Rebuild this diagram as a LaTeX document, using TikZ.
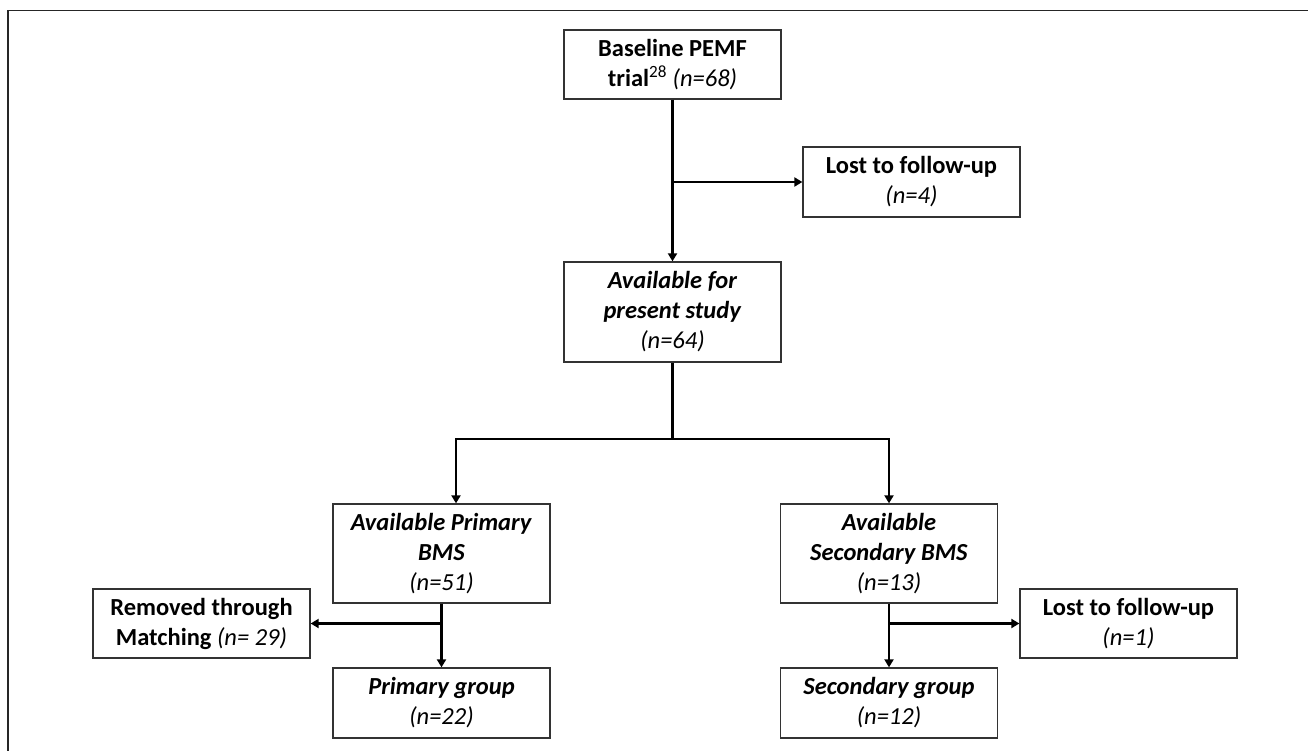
\documentclass[tikz,border=0pt]{standalone}
\usepackage{fontspec}
\setmainfont{Carlito}
\usetikzlibrary{arrows.meta}
\tikzset{
  box/.style={draw=black!80, line width=1.3pt, rectangle, minimum width=217pt, inner sep=2pt, align=center,
    font=\fontsize{24.5}{30}\selectfont},
  arr/.style={draw=black, line width=2.6pt, -{Triangle[length=8pt,width=9pt]}},
  ln/.style={draw=black, line width=2.6pt},
  frame/.style={draw=black!85, line width=1.8pt}
}
\begin{document}
\begin{tikzpicture}[x=1pt,y=-1pt]
\useasboundingbox (0,0) rectangle (1308,751);
\draw[frame] (8,751) -- (8,10.5) -- (1308,10.5);

\node[box, minimum height=69pt] (b1) at (672.5,64.5) {\textbf{Baseline PEMF}\\\textbf{trial}\textsuperscript{28} \textit{(n=68)}};
\node[box, minimum height=70pt] (lost1) at (911.5,182) {\textbf{Lost to follow-up}\\\textit{(n=4)}};
\node[box, minimum height=100pt] (avail) at (672.5,312) {\textbf{\textit{Available for}}\\\textbf{\textit{present study}}\\\textit{(n=64)}};
\node[box, minimum height=99pt] (avp) at (441.5,553.5) {\textbf{\textit{Available Primary}}\\\textbf{\textit{BMS}}\\\textit{(n=51)}};
\node[box, minimum height=99pt] (avs) at (889,553.5) {\textbf{\textit{Available}}\\\textbf{\textit{Secondary BMS}}\\\textit{(n=13)}};
\node[box, minimum height=69pt] (rem) at (201.5,623.5) {\textbf{Removed through}\\\textbf{Matching} \textit{(n= 29)}};
\node[box, minimum height=69pt] (lost2) at (1128.5,623.5) {\textbf{Lost to follow-up}\\\textit{(n=1)}};
\node[box, minimum height=70pt] (pg) at (441.5,703) {\textbf{\textit{Primary group}}\\\textit{(n=22)}};
\node[box, minimum height=70pt] (sg) at (889,703) {\textbf{\textit{Secondary group}}\\\textit{(n=12)}};

\coordinate (j1) at (b1.south |- lost1.west);
\coordinate (br) at (672.5,439);
\coordinate (bl) at (456,439);
\coordinate (j2) at (avp.south |- rem.east);
\coordinate (j3) at (avs.south |- lost2.west);

\draw[arr] (b1.south) -- (avail.north);
\draw[arr] (j1) -- (lost1.west);
\draw[ln] (avail.south) -- (br);
\draw[arr] (br) -- (bl) -- (bl |- avp.north);
\draw[arr] (br) -| (avs.north);
\draw[arr] (avp.south) -- (pg.north);
\draw[arr] (j2) -- (rem.east);
\draw[arr] (avs.south) -- (sg.north);
\draw[arr] (j3) -- (lost2.west);
\end{tikzpicture}
\end{document}
